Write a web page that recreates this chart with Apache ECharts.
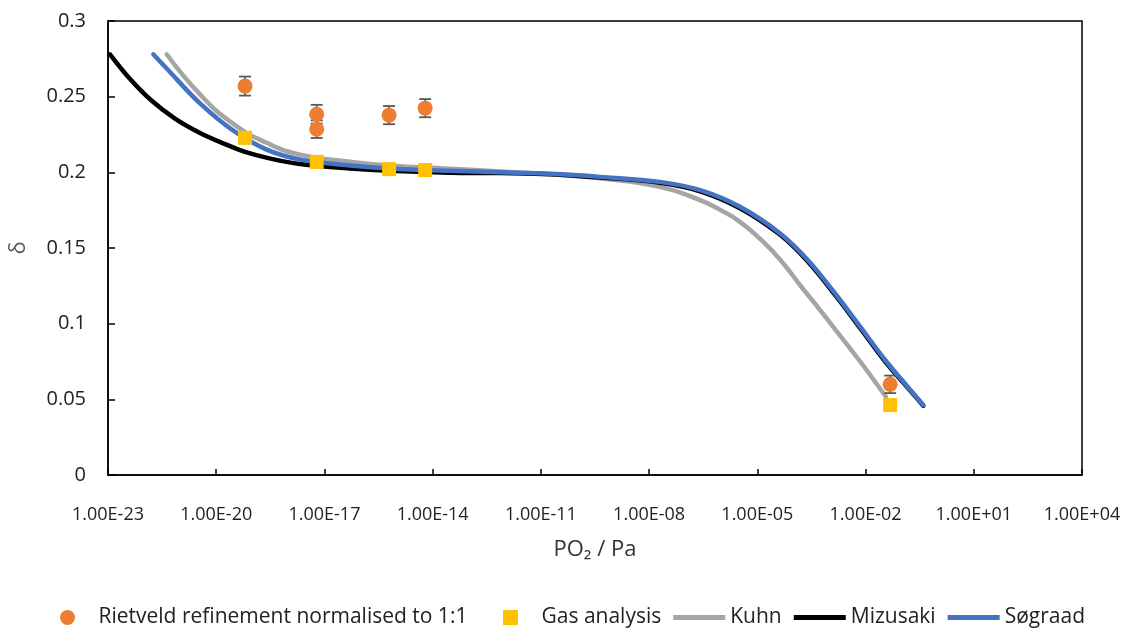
<!DOCTYPE html>
<html>
<head>
<meta charset="utf-8">
<script src="https://cdn.jsdelivr.net/npm/echarts@6/dist/echarts.min.js"></script>
<style>
html,body{margin:0;padding:0;background:#fff;}
#chart{width:1131px;height:630px;}
</style>
</head>
<body>
<div id="chart"></div>
<script>
// ---- Data (PO2 in Pa, delta) ----
var rietveldX = [6.3e-20, 6.1e-18, 6.1e-18, 6.2e-16, 6.2e-15, 0.048];
var rietveldY = [0.257, 0.2384, 0.2285, 0.2378, 0.2424, 0.0599];
var rietveldErr = [0.0063, 0.0062, 0.0058, 0.006, 0.006, 0.0058];

var gasX = [6.3e-20, 6.1e-18, 6.2e-16, 6.2e-15, 0.048];
var gasY = [0.2228, 0.2069, 0.2021, 0.2015, 0.0462];

var kuhnX = [4.24e-22, 3.56e-21, 2.98e-20, 2.5e-19, 2.1e-18, 5.1e-17, 6.2e-16, 3.0e-14, 7.4e-13, 1.8e-11, 4.4e-10, 2.0e-8, 2.6e-7, 9.3e-7, 3.3e-6, 1.19e-5, 4.3e-5, 1.53e-4, 5.5e-4, 1.97e-3, 7.1e-3, 0.0151, 0.037];
var kuhnY = [0.278, 0.2515, 0.2320, 0.2195, 0.2117, 0.2070, 0.2045, 0.2024, 0.2006, 0.1987, 0.1960, 0.1904, 0.1816, 0.1752, 0.1673, 0.1560, 0.1423, 0.1255, 0.1090, 0.0921, 0.0750, 0.0644, 0.0515];

var mizusakiX = [1.135e-23, 4.1e-23, 1.46e-22, 7.2e-22, 3.56e-21, 1.7e-20, 6.3e-20, 3.0e-19, 2.1e-18, 5.1e-17, 6.2e-16, 3.0e-14, 7.4e-13, 1.8e-11, 4.4e-10, 2.0e-8, 2.6e-7, 3.3e-6, 4.3e-5, 2.57e-4, 1.43e-3, 7.1e-3, 0.035, 0.209, 0.40];
var mizusakiY = [0.278, 0.2616, 0.2483, 0.2355, 0.2260, 0.2188, 0.2135, 0.2092, 0.2055, 0.2025, 0.2010, 0.1998, 0.1995, 0.1988, 0.1966, 0.1931, 0.1875, 0.1763, 0.1587, 0.1408, 0.1190, 0.0970, 0.0750, 0.0535, 0.0458];

var sograadX = [1.8e-22, 4.24e-22, 3.56e-21, 2.98e-20, 2.5e-19, 2.1e-18, 5.1e-17, 6.2e-16, 3.0e-14, 7.4e-13, 1.8e-11, 4.4e-10, 2.0e-8, 2.6e-7, 3.3e-6, 4.3e-5, 2.57e-4, 1.43e-3, 7.1e-3, 0.035, 0.209, 0.40];
var sograadY = [0.278, 0.2686, 0.2455, 0.2275, 0.2150, 0.2085, 0.2045, 0.2026, 0.2010, 0.2000, 0.1990, 0.1970, 0.1937, 0.1882, 0.1772, 0.1596, 0.1418, 0.1200, 0.0980, 0.0760, 0.0540, 0.0462];

var xTickExponents = [-23, -20, -17, -14, -11, -8, -5, -2, 1, 4];
var yTicks = [0, 0.05, 0.1, 0.15, 0.2, 0.25, 0.3];

// axis uses log10(PO2) shifted so that the minimum exponent is 0
var EXP0 = xTickExponents[0];
function toAxis(p) { return Math.log10(p) - EXP0; }
function pairs(xs, ys) { return xs.map(function (x, i) { return [toAxis(x), ys[i]]; }); }
function fmtExp(v) {
  var e = Math.round(v + EXP0);
  var s = Math.abs(e) < 10 ? '0' + Math.abs(e) : '' + Math.abs(e);
  return '1.00E' + (e < 0 ? '-' : '+') + s;
}

var FONT = 'Open Sans';
var LINE_ICON = 'path://M0,0h52v5h-52z';
var SQUARE_ICON = 'path://M0,0h10v10h-10z';
var chart = echarts.init(document.getElementById('chart'), null, {renderer: 'canvas'});

var lineCommon = {type: 'line', smooth: 0.35, showSymbol: false, symbol: 'none'};
var legendCommon = {
  top: 602,
  itemWidth: 52,
  itemHeight: 15,
  itemGap: 12,
  textStyle: {fontFamily: FONT, fontSize: 21, color: '#222'}
};

var option = {
  animation: false,
  backgroundColor: '#fff',
  textStyle: {fontFamily: FONT},
  grid: {left: 108, right: 49, top: 21, bottom: 155, containLabel: false, outerBoundsMode: 'none',
         show: true, borderColor: '#000', borderWidth: 1.5},
  legend: [
    Object.assign({}, legendCommon, {
      left: 55,
      data: [{name: 'Rietveld refinement normalised to 1:1', icon: 'circle'}]
    }),
    Object.assign({}, legendCommon, {
      left: 498,
      data: [
        {name: 'Gas analysis', icon: SQUARE_ICON},
        {name: 'Kuhn', icon: LINE_ICON},
        {name: 'Mizusaki', icon: LINE_ICON},
        {name: 'Søgraad', icon: LINE_ICON}
      ]
    })
  ],
  xAxis: {
    type: 'value',
    min: 0,
    max: xTickExponents[xTickExponents.length - 1] - EXP0,
    interval: 3,
    name: 'PO₂ / Pa',
    nameLocation: 'middle',
    nameGap: 64,
    nameTextStyle: {fontFamily: FONT, fontSize: 22, color: '#333'},
    axisLine: {show: true, lineStyle: {color: '#000', width: 1.5}},
    axisTick: {show: true, inside: true, length: 6, lineStyle: {color: '#000', width: 1.5}},
    axisLabel: {formatter: fmtExp, fontFamily: FONT, fontSize: 18, color: '#222', margin: 31},
    splitLine: {show: false}
  },
  yAxis: {
    type: 'value',
    min: yTicks[0],
    max: yTicks[yTicks.length - 1],
    interval: 0.05,
    name: 'δ',
    nameLocation: 'middle',
    nameRotate: 90,
    nameGap: 78,
    nameTextStyle: {fontFamily: FONT, fontSize: 22, color: '#595959'},
    axisLine: {show: true, lineStyle: {color: '#000', width: 1.5}},
    axisTick: {show: true, inside: true, length: 7, lineStyle: {color: '#000', width: 1.5}},
    axisLabel: {fontFamily: FONT, fontSize: 20, color: '#222', margin: 22},
    splitLine: {show: false}
  },
  series: [
    Object.assign({}, lineCommon, {
      name: 'Kuhn', data: pairs(kuhnX, kuhnY), smooth: 0.5,
      lineStyle: {color: '#A5A5A5', width: 4.5, cap: 'round'},
      itemStyle: {color: '#A5A5A5'}, z: 2
    }),
    Object.assign({}, lineCommon, {
      name: 'Mizusaki', data: pairs(mizusakiX, mizusakiY),
      lineStyle: {color: '#000000', width: 4.5, cap: 'round'},
      itemStyle: {color: '#000000'}, z: 3
    }),
    Object.assign({}, lineCommon, {
      name: 'Søgraad', data: pairs(sograadX, sograadY),
      lineStyle: {color: '#4472C4', width: 4.5, cap: 'round'},
      itemStyle: {color: '#4472C4'}, z: 4
    }),
    {
      name: 'errbars', type: 'custom', z: 5, silent: true,
      data: rietveldX.map(function (x, i) { return [toAxis(x), rietveldY[i], rietveldErr[i]]; }),
      renderItem: function (params, api) {
        var x = api.value(0), y = api.value(1), e = api.value(2);
        var hi = api.coord([x, y + e]);
        var lo = api.coord([x, y - e]);
        var w = 6;
        var st = {stroke: '#595959', lineWidth: 1.8};
        return {
          type: 'group',
          children: [
            {type: 'line', shape: {x1: hi[0], y1: hi[1], x2: lo[0], y2: lo[1]}, style: st},
            {type: 'line', shape: {x1: hi[0] - w, y1: hi[1], x2: hi[0] + w, y2: hi[1]}, style: st},
            {type: 'line', shape: {x1: lo[0] - w, y1: lo[1], x2: lo[0] + w, y2: lo[1]}, style: st}
          ]
        };
      }
    },
    {
      name: 'Rietveld refinement normalised to 1:1', type: 'scatter',
      symbol: 'circle', symbolSize: 15,
      data: pairs(rietveldX, rietveldY),
      itemStyle: {color: '#ED7D31', opacity: 1}, z: 6
    },
    {
      name: 'Gas analysis', type: 'scatter',
      symbol: 'rect', symbolSize: 14,
      data: pairs(gasX, gasY),
      itemStyle: {color: '#FFC000', opacity: 1}, z: 6
    }
  ]
};
chart.setOption(option);
</script>
</body>
</html>
